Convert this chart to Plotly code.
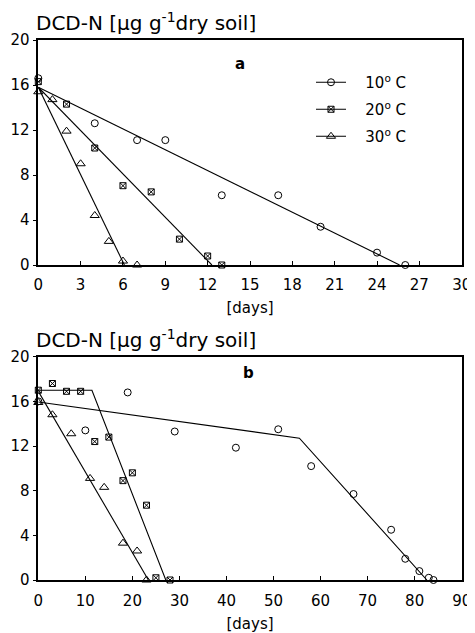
import plotly.graph_objects as go

# ---------------- data ----------------
# Panel a
a10_x = [0, 4, 7, 9, 13, 17, 20, 24, 26]
a10_y = [16.6, 12.6, 11.1, 11.1, 6.2, 6.2, 3.4, 1.1, 0]
a20_x = [0, 2, 4, 6, 8, 10, 12, 13]
a20_y = [16.3, 14.3, 10.4, 7.05, 6.5, 2.3, 0.8, 0]
a30_x = [0, 1, 2, 3, 4, 5, 6, 7]
a30_y = [15.4, 14.7, 11.9, 9.0, 4.4, 2.1, 0.35, 0]
a10_fit_x = [0, 25.6]; a10_fit_y = [15.8, 0]
a20_fit_x = [0, 12.3]; a20_fit_y = [15.8, 0]
a30_fit_x = [0, 6.1];  a30_fit_y = [15.8, 0]

# Panel b
b10_x = [0, 10, 19, 29, 42, 51, 58, 67, 75, 78, 81, 83, 84]
b10_y = [16.0, 13.4, 16.8, 13.3, 11.85, 13.5, 10.2, 7.7, 4.5, 1.9, 0.8, 0.2, 0]
b20_x = [0, 3, 6, 9, 12, 15, 18, 20, 23, 25, 28]
b20_y = [17.0, 17.6, 16.9, 16.9, 12.4, 12.8, 8.9, 9.6, 6.7, 0.2, 0]
b30_x = [0, 3, 7, 11, 14, 18, 21, 23]
b30_y = [15.9, 14.8, 13.1, 9.1, 8.3, 3.3, 2.6, 0]
b10_fit_x = [0, 55.5, 82.6]; b10_fit_y = [15.95, 12.7, 0]
b20_fit_x = [0, 11.4, 27.1]; b20_fit_y = [17.0, 17.0, 0]
b30_fit_x = [0, 23.4];       b30_fit_y = [16.9, 0]

series_names = ["\u00a0\u00a0\u00a010<sup>o</sup> C", "\u00a0\u00a0\u00a020<sup>o</sup> C",
                "\u00a0\u00a0\u00a030<sup>o</sup> C"]
symbols = ["circle-open", "square-x-open", "triangle-up-open"]
sizes = [7, 6, 8]

xa_ticks = [0, 3, 6, 9, 12, 15, 18, 21, 24, 27, 30]
xb_ticks = [0, 10, 20, 30, 40, 50, 60, 70, 80, 90]
y_ticks = [0, 4, 8, 12, 16, 20]

FONT = "DejaVu Sans"
OFF = 8                      # page body margin
W, H = 475 - OFF, 633 - OFF  # figure size inside the window

fig = go.Figure()

def add_points(x, y, i, xa, ya):
    fig.add_trace(go.Scatter(x=x, y=y, mode="markers", xaxis=xa, yaxis=ya,
                             marker=dict(symbol=symbols[i], size=sizes[i], color="black",
                                         line=dict(width=1, color="black")),
                             cliponaxis=False, showlegend=False))

def add_line(x, y, xa, ya):
    fig.add_trace(go.Scatter(x=x, y=y, mode="lines", xaxis=xa, yaxis=ya,
                             line=dict(color="black", width=1.1),
                             cliponaxis=False, showlegend=False))

# panel a
for i, (x, y, fx, fy) in enumerate([(a10_x, a10_y, a10_fit_x, a10_fit_y),
                                     (a20_x, a20_y, a20_fit_x, a20_fit_y),
                                     (a30_x, a30_y, a30_fit_x, a30_fit_y)]):
    add_line(fx, fy, "x", "y")
    add_points(x, y, i, "x", "y")
# panel b
for i, (x, y, fx, fy) in enumerate([(b10_x, b10_y, b10_fit_x, b10_fit_y),
                                     (b20_x, b20_y, b20_fit_x, b20_fit_y),
                                     (b30_x, b30_y, b30_fit_x, b30_fit_y)]):
    add_line(fx, fy, "x2", "y2")
    add_points(x, y, i, "x2", "y2")

# legend entries
for i in range(3):
    fig.add_trace(go.Scatter(x=[None], y=[None], mode="lines+markers", name=series_names[i],
                             legendgroup="g%d" % i, xaxis="x", yaxis="y",
                             line=dict(color="black", width=1),
                             marker=dict(symbol=symbols[i], size=sizes[i], color="black",
                                         line=dict(width=1, color="black"))))

def px_x(p):
    return (p - OFF) / W

def px_y(p):
    return 1 - (p - OFF) / H

axis_common = dict(showline=True, linecolor="black", linewidth=1.5, mirror=True,
                   showgrid=False, zeroline=False, automargin=False,
                   tickfont=dict(family=FONT, size=15, color="black"),
                   ticklen=4, tickcolor="black")

fig.update_layout(
    width=W, height=H,
    margin=dict(l=0, r=0, t=0, b=0, autoexpand=False),
    paper_bgcolor="white", plot_bgcolor="white",
    font=dict(family=FONT, size=15, color="black"),
    xaxis=dict(domain=[px_x(38.3), px_x(461.7)], range=[0, 30], tickvals=xa_ticks,
               ticks="inside", anchor="y", ticklabelstandoff=5,
               title=dict(text="[days]", font=dict(family=FONT, size=15), standoff=10),
               **axis_common),
    yaxis=dict(domain=[px_y(265), px_y(40)], range=[0, 20], tickvals=y_ticks,
               ticks="outside", anchor="x", **axis_common),
    xaxis2=dict(domain=[px_x(38.3), px_x(461.7)], range=[0, 90], tickvals=xb_ticks,
                ticks="inside", anchor="y2", ticklabelstandoff=6,
                title=dict(text="[days]", font=dict(family=FONT, size=15), standoff=10),
                **axis_common),
    yaxis2=dict(domain=[px_y(580), px_y(356.7)], range=[0, 20], tickvals=y_ticks,
                ticks="outside", anchor="x2", **axis_common),
    legend=dict(x=px_x(311), y=px_y(66), xanchor="left", yanchor="top",
                font=dict(family=FONT, size=15), itemwidth=30,
                tracegroupgap=4.5, bgcolor="rgba(0,0,0,0)"),
    showlegend=True,
)

title_text = "DCD-N [µg g<sup>-1</sup>dry soil]"
fig.add_annotation(text=title_text, xref="paper", yref="paper", x=px_x(34), y=px_y(37),
                   xanchor="left", yanchor="bottom", showarrow=False,
                   font=dict(family=FONT, size=20, color="black"))
fig.add_annotation(text=title_text, xref="paper", yref="paper", x=px_x(34), y=px_y(354),
                   xanchor="left", yanchor="bottom", showarrow=False,
                   font=dict(family=FONT, size=20, color="black"))
fig.add_annotation(text="<b>a</b>", xref="x", yref="y", x=14.3, y=17.9, showarrow=False,
                   font=dict(family=FONT, size=15, color="black"))
fig.add_annotation(text="<b>b</b>", xref="x2", yref="y2", x=44.7, y=18.5, showarrow=False,
                   font=dict(family=FONT, size=15, color="black"))

fig.write_html("out.html")
